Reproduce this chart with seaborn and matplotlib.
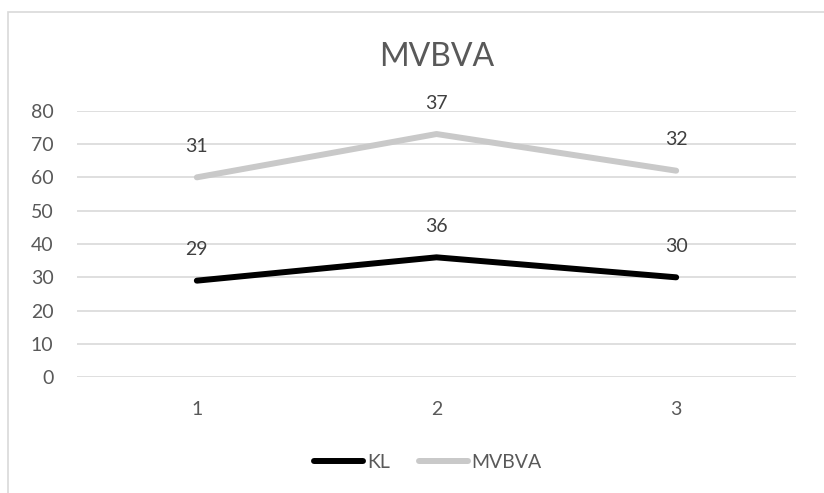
import matplotlib
matplotlib.use("Agg")
import matplotlib.pyplot as plt
from matplotlib.patches import Rectangle
import numpy as np
import pandas as pd
import seaborn as sns

categories = ["1", "2", "3"]
kl_values = [29, 36, 30]
mvbva_values = [31, 37, 32]
series_names = ["KL", "MVBVA"]
title_text = "MVBVA"
y_ticks = [0, 10, 20, 30, 40, 50, 60, 70, 80]

sns.set_theme(style="white")
plt.rcParams["font.family"] = ["Lato", "DejaVu Sans"]

# stacked line: the second series sits on top of the first
x_pos = np.arange(1, len(categories) + 1)
kl_arr = np.array(kl_values)
mv_arr = np.array(mvbva_values)
df = pd.DataFrame({
    "x": np.concatenate([x_pos, x_pos]),
    "total": np.concatenate([kl_arr, kl_arr + mv_arr]),
    "value": np.concatenate([kl_arr, mv_arr]),
    "series": [series_names[0]] * len(x_pos) + [series_names[1]] * len(x_pos),
})

colors = {"KL": "#000000", "MVBVA": "#C9C9C9"}
text_color = "#595959"
label_color = "#404040"
fs = 14

fig = plt.figure(figsize=(8.24, 4.93), dpi=100)
fig.patch.set_facecolor("white")
fig.patches.append(Rectangle((8 / 824, -0.1), 1.2, 1.1 - 12 / 493,
                             transform=fig.transFigure, fill=False,
                             edgecolor="#D9D9D9", linewidth=1.2))

ax = fig.add_axes([77 / 824, 1 - 377.3 / 493, (796 - 77) / 824, (377.3 - 110.7) / 493])
ax.set_facecolor("none")

sns.lineplot(data=df, x="x", y="total", hue="series", palette=colors,
             linewidth=4.3, ax=ax, legend=False, solid_capstyle="round",
             zorder=3)

for _, row in df.iterrows():
    ax.annotate(f"{row['value']}", (row["x"], row["total"]),
                xytext=(0, 31), textcoords="offset pixels",
                ha="center", va="center", fontsize=fs, color=label_color,
                zorder=4)

ax.set_xlim(0.5, len(categories) + 0.5)
ax.set_ylim(0, 80)
ax.set_xticks(x_pos)
ax.set_xticklabels(categories)
ax.set_yticks(y_ticks)
ax.tick_params(axis="both", length=0, labelsize=fs, labelcolor=text_color)
ax.tick_params(axis="x", pad=17)
ax.tick_params(axis="y", pad=17)
ax.grid(axis="y", color="#D9D9D9", linewidth=1.2)
ax.grid(axis="x", visible=False)
for s in ax.spines.values():
    s.set_visible(False)
ax.set_xlabel("")
ax.set_ylabel("")

fig.text((77 + 796) / 2 / 824, 1 - 57 / 493, title_text,
         ha="center", va="center", fontsize=23, color=text_color)

handles = [plt.Line2D([], [], color=colors[n], linewidth=4.3, solid_capstyle="round")
           for n in series_names]
fig.legend(handles, series_names, loc="center", bbox_to_anchor=(428 / 824, 1 - 462 / 493),
           ncol=2, frameon=False, fontsize=fs, labelcolor=text_color,
           handlelength=2.5, handletextpad=0.2, columnspacing=1.5)

fig.savefig("out.png", dpi=100, facecolor="white")
